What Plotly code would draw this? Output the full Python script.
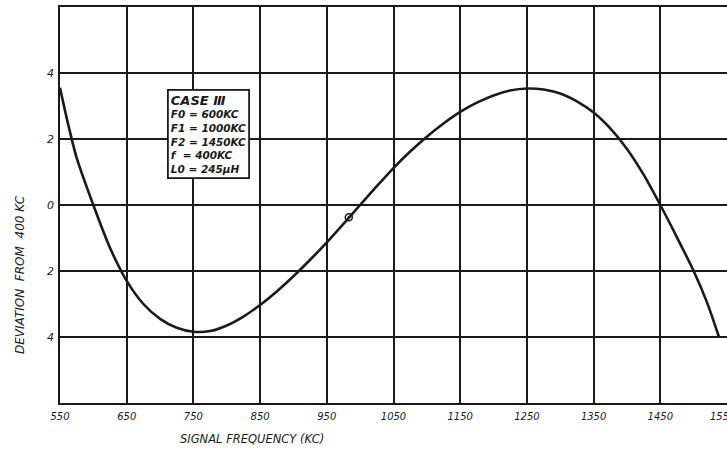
import plotly.graph_objects as go

# Signal frequency (kc) and deviation from 400 kc
freq_kc = [550, 560, 575, 600, 625, 650, 675, 700, 725, 750, 775, 800, 825,
           850, 875, 900, 925, 950, 975, 1000, 1025, 1050, 1075, 1100, 1125,
           1150, 1175, 1200, 1225, 1250, 1275, 1300, 1325, 1350, 1375, 1400,
           1425, 1450, 1475, 1500, 1520, 1538]
deviation = [3.55, 2.64, 1.43, 0.0, -1.3, -2.3, -3.0, -3.45, -3.72, -3.84, -3.82,
             -3.65, -3.38, -3.03, -2.62, -2.16, -1.66, -1.13, -0.57, 0.0, 0.57,
             1.12, 1.62, 2.07, 2.47, 2.82, 3.1, 3.32, 3.47, 3.53, 3.5, 3.38, 3.14,
             2.8, 2.32, 1.7, 0.92, 0.0, -0.98, -2.0, -2.95, -4.0]
marker_x = [983]
marker_y = [-0.37]

x_ticks = [550, 650, 750, 850, 950, 1050, 1150, 1250, 1350, 1450]
x_edge_tick = 1550
y_ticks = [-4, -2, 0, 2, 4]
y_ticktext = ["4", "2", "0", "2", "4"]

legend_title = "CASE \u2162"
legend_lines = ["F0 = 600KC", "F1 = 1000KC", "F2 = 1450KC", "f  = 400KC", "L0 = 245\u03bcH"]

FONT = "DejaVu Sans"
INK = "#1a1a1a"

fig = go.Figure()
fig.add_trace(go.Scatter(x=freq_kc, y=deviation, mode="lines",
                         line=dict(color=INK, width=2.6, shape="spline", smoothing=0.8),
                         hoverinfo="skip"))
fig.add_trace(go.Scatter(x=marker_x, y=marker_y, mode="markers",
                         marker=dict(symbol="circle-open-dot", size=7, color=INK,
                                     line=dict(width=1.5, color=INK))))

fig.update_layout(
    width=727, height=449,
    margin=dict(l=60, r=0, t=7, b=46),
    paper_bgcolor="white", plot_bgcolor="white",
    showlegend=False,
    font=dict(family=FONT, color=INK, style="italic"),
)
fig.update_xaxes(range=[550, 1550], tickvals=x_ticks, showgrid=True, automargin=False,
                 gridcolor=INK, gridwidth=1.6, showline=True, linecolor=INK,
                 linewidth=1.8, mirror=True, zeroline=False, ticks="",
                 ticklabelstandoff=3,
                 tickfont=dict(size=10, family=FONT, style="italic"))
fig.update_yaxes(range=[-6, 6], tickvals=[-6] + y_ticks + [6], automargin=False,
                 ticktext=[""] + y_ticktext + [""], showgrid=True,
                 gridcolor=INK, gridwidth=1.6, showline=True, linecolor=INK,
                 linewidth=1.8, mirror=True, zeroline=False, ticks="",
                 ticklabelstandoff=2,
                 tickfont=dict(size=11, family=FONT, style="italic"))

# tick label at the right edge (partly cut off, as in the reference)
fig.add_annotation(xref="x", yref="paper", x=x_edge_tick, y=(403 - 416) / 396,
                   xanchor="center", yanchor="middle", showarrow=False, xshift=-5,
                   text=str(x_edge_tick),
                   font=dict(size=10, family=FONT, style="italic", color=INK))

# legend box
box_text = ("<span style='font-size:13px'>" + legend_title + "</span><br>"
            + "<br>".join(legend_lines))
fig.add_annotation(xref="paper", yref="paper", x=(167 - 60) / 667, y=(403 - 89) / 396,
                   xanchor="left", yanchor="top", showarrow=False, align="left",
                   text=box_text,
                   font=dict(size=10.5, family=FONT, style="italic", weight="bold", color=INK),
                   bgcolor="white", bordercolor=INK, borderwidth=1.8, borderpad=2)

# axis titles
fig.add_annotation(xref="paper", yref="paper", x=(252 - 60) / 667, y=(403 - 439) / 396,
                   xanchor="center", yanchor="middle", showarrow=False,
                   text="SIGNAL FREQUENCY (KC)",
                   font=dict(size=11.5, family=FONT, style="italic", color=INK))
fig.add_annotation(xref="paper", yref="paper", x=(20 - 60) / 667, y=(403 - 275) / 396,
                   xanchor="center", yanchor="middle", showarrow=False, textangle=-90,
                   text="DEVIATION  FROM  400 KC",
                   font=dict(size=12, family=FONT, style="italic", color=INK))

fig.write_html("out.html", config={"displayModeBar": False},
               post_script="document.body.style.margin='0';document.body.style.overflow='hidden';")
